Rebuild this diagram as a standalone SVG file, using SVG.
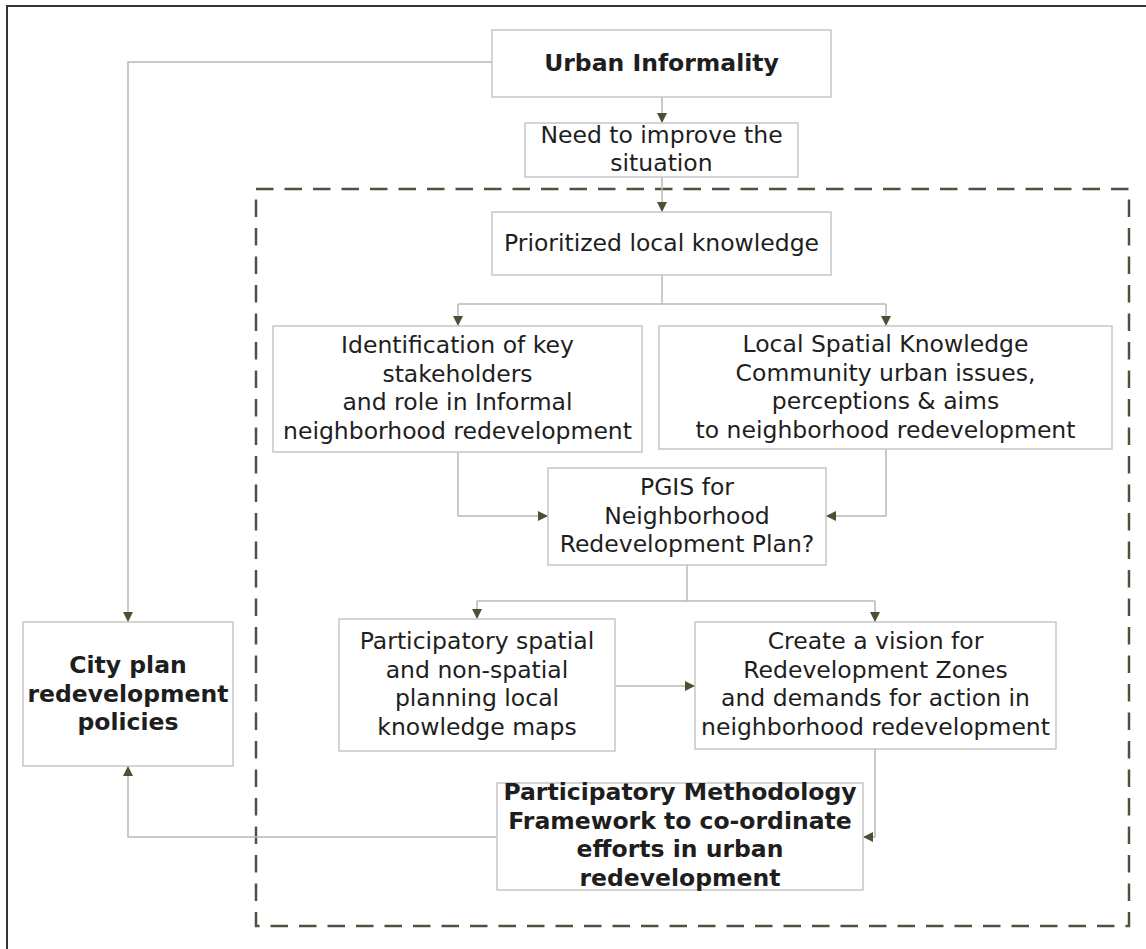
<svg xmlns="http://www.w3.org/2000/svg" width="1146" height="949" viewBox="0 0 1146 949">
  <style>
    .box { fill: #ffffff; stroke: #c6c6c6; stroke-width: 1.5; }
    .lbl { font-family: "DejaVu Sans", Verdana, sans-serif; font-size: 23.5px; fill: #1e1e1e; text-anchor: middle; }
    .bold { font-weight: bold; }
    .conn { fill: none; stroke: #b8b8b8; stroke-width: 1.5; }
    .frame { fill: none; stroke: #333333; stroke-width: 2; }
    .scope { fill: none; stroke: #4e5340; stroke-width: 2.5; stroke-dasharray: 17.5 11; }
  </style>
  <defs>
    <marker id="arrow" markerUnits="userSpaceOnUse" viewBox="0 0 10 10" refX="10" refY="5" markerWidth="10" markerHeight="10" orient="auto">
      <path d="M0,0 L10,5 L0,10 z" fill="#4b5234"/>
    </marker>
  </defs>

  <rect width="1146" height="949" fill="#ffffff"/>
  <!-- page frame (only top and left edges fall inside the page) -->
  <path class="frame" d="M7,949 V6 H1146"/>

  <!-- dashed boundary of the participatory process -->
  <rect class="scope" x="256" y="189" width="873" height="737"/>

  <g id="connectors">
    <path class="conn" d="M662,97 V123" marker-end="url(#arrow)"/>
    <path class="conn" d="M662,177 V212" marker-end="url(#arrow)"/>
    <path class="conn" d="M662,275 V304"/>
    <path class="conn" d="M458,304 H886"/>
    <path class="conn" d="M458,304 V326" marker-end="url(#arrow)"/>
    <path class="conn" d="M886,304 V326" marker-end="url(#arrow)"/>
    <path class="conn" d="M492,62 H128 V622" marker-end="url(#arrow)"/>
    <path class="conn" d="M458,452 V516 H548" marker-end="url(#arrow)"/>
    <path class="conn" d="M886,449 V516 H826" marker-end="url(#arrow)"/>
    <path class="conn" d="M687,565 V601"/>
    <path class="conn" d="M477,601 H875"/>
    <path class="conn" d="M477,601 V619" marker-end="url(#arrow)"/>
    <path class="conn" d="M875,601 V622" marker-end="url(#arrow)"/>
    <path class="conn" d="M615,686 H695" marker-end="url(#arrow)"/>
    <path class="conn" d="M875,749 V837 H863" marker-end="url(#arrow)"/>
    <path class="conn" d="M497,837 H128 V766" marker-end="url(#arrow)"/>
  </g>

  <g id="urban-informality">
    <rect class="box" x="492" y="30" width="339" height="67"/>
    <text class="lbl bold" x="661.5" y="71">Urban Informality</text>
  </g>

  <g id="need-to-improve">
    <rect class="box" x="525" y="123" width="273" height="54"/>
    <text class="lbl" x="661.5" y="143">Need to improve the</text>
    <text class="lbl" x="661.5" y="171">situation</text>
  </g>

  <g id="prioritized-knowledge">
    <rect class="box" x="492" y="212" width="339" height="63"/>
    <text class="lbl" x="661.5" y="251">Prioritized local knowledge</text>
  </g>

  <g id="stakeholders">
    <rect class="box" x="273" y="326" width="369" height="126"/>
    <text class="lbl" x="457.5" y="353">Identification of key</text>
    <text class="lbl" x="457.5" y="381.5">stakeholders</text>
    <text class="lbl" x="457.5" y="410">and role in Informal</text>
    <text class="lbl" x="457.5" y="438.5">neighborhood redevelopment</text>
  </g>

  <g id="local-spatial-knowledge">
    <rect class="box" x="659" y="326" width="453" height="123"/>
    <text class="lbl" x="885.5" y="352">Local Spatial Knowledge</text>
    <text class="lbl" x="885.5" y="380.5">Community urban issues,</text>
    <text class="lbl" x="885.5" y="409">perceptions &amp; aims</text>
    <text class="lbl" x="885.5" y="437.5">to neighborhood redevelopment</text>
  </g>

  <g id="pgis">
    <rect class="box" x="548" y="468" width="278" height="97"/>
    <text class="lbl" x="687" y="495">PGIS for</text>
    <text class="lbl" x="687" y="523.5">Neighborhood</text>
    <text class="lbl" x="687" y="552">Redevelopment Plan?</text>
  </g>

  <g id="city-plan">
    <rect class="box" x="23" y="622" width="210" height="144"/>
    <text class="lbl bold" x="128" y="673">City plan</text>
    <text class="lbl bold" x="128" y="701.5">redevelopment</text>
    <text class="lbl bold" x="128" y="730">policies</text>
  </g>

  <g id="participatory-maps">
    <rect class="box" x="339" y="619" width="276" height="132"/>
    <text class="lbl" x="477" y="649">Participatory spatial</text>
    <text class="lbl" x="477" y="677.5">and non-spatial</text>
    <text class="lbl" x="477" y="706">planning local</text>
    <text class="lbl" x="477" y="734.5">knowledge maps</text>
  </g>

  <g id="vision">
    <rect class="box" x="695" y="622" width="361" height="127"/>
    <text class="lbl" x="875.5" y="649">Create a vision for</text>
    <text class="lbl" x="875.5" y="677.5">Redevelopment Zones</text>
    <text class="lbl" x="875.5" y="706">and demands for action in</text>
    <text class="lbl" x="875.5" y="734.5">neighborhood redevelopment</text>
  </g>

  <g id="methodology-framework">
    <rect class="box" x="497" y="783" width="366" height="107"/>
    <text class="lbl bold" x="680" y="800">Participatory Methodology</text>
    <text class="lbl bold" x="680" y="828.5">Framework to co-ordinate</text>
    <text class="lbl bold" x="680" y="857">efforts in urban</text>
    <text class="lbl bold" x="680" y="885.5">redevelopment</text>
  </g>
</svg>
